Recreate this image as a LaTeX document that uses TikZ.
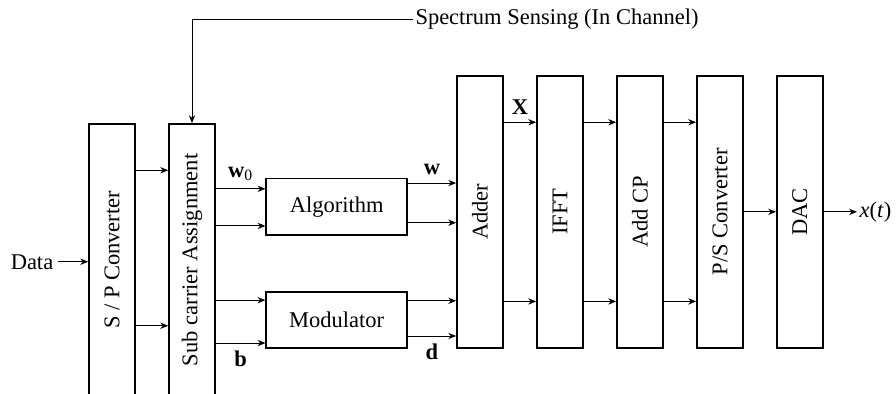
\documentclass[tikz,border=0pt]{standalone}
\usepackage{fontspec}
\setmainfont{Liberation Serif}
\usetikzlibrary{arrows.meta, positioning}

\begin{document}
\begin{tikzpicture}[
  tall/.style={draw, line width=0.7pt, minimum width=0.72cm, minimum height=4.25cm},
  blk/.style={draw, line width=0.7pt, minimum width=2.2cm, minimum height=0.88cm},
  lbl/.style={font=\bfseries},
  ->, >={Stealth[length=3.5pt, width=2.8pt]}, line width=0.4pt
]
\useasboundingbox (0,0) rectangle (14,-6.156);
\clip (0,0) rectangle (14,-6.156);

\node[tall] (spconv) at (1.75,-4.06) {\rotatebox{90}{S / P Converter}};
\node[tall] (subcar) at (3.0,-4.06) {\rotatebox{90}{Sub carrier Assignment}};
\node[blk] (algo) at (5.26,-3.23) {Algorithm};
\node[blk] (modu) at (5.26,-5.0) {Modulator};
\node[tall] (adder) at (7.5,-3.31) {\rotatebox{90}{Adder}};
\node[tall, right=0.505cm of adder] (ifft) {\rotatebox{90}{IFFT}};
\node[tall, right=0.505cm of ifft] (addcp) {\rotatebox{90}{Add CP}};
\node[tall, right=0.505cm of addcp] (psconv) {\rotatebox{90}{P/S Converter}};
\node[tall, right=0.505cm of psconv] (dac) {\rotatebox{90}{DAC}};

\node[inner sep=2pt] (data) at (0.5,-4.09) {Data};
\node[right=0.52cm of dac, inner sep=1pt] (xout) {\textit{x}(\textit{t})};
\node[right, inner sep=1pt] (sense) at (6.45,-0.3) {Spectrum Sensing (In Channel)};

% input side
\draw (data.east) -- (spconv.west |- data.east);
\draw (sense.west) -| (subcar.north);
\draw (spconv.east |- 0,-2.66) -- (subcar.west |- 0,-2.66);
\draw (spconv.east |- 0,-5.09) -- (subcar.west |- 0,-5.09);
\draw (subcar.east |- 0,-2.95) -- node[lbl, above]{w\textsubscript{\mdseries 0}} (algo.west |- 0,-2.95);
\draw (subcar.east |- 0,-3.53) -- (algo.west |- 0,-3.53);
\draw (subcar.east |- 0,-4.69) -- (modu.west |- 0,-4.69);
\draw (subcar.east |- 0,-5.36) -- node[lbl, below]{b} (modu.west |- 0,-5.36);

% into the adder
\draw (algo.east |- 0,-2.86) -- node[lbl, above]{w} (adder.west |- 0,-2.86);
\draw (algo.east |- 0,-3.48) -- (adder.west |- 0,-3.48);
\draw (modu.east |- 0,-4.70) -- (adder.west |- 0,-4.70);
\draw (modu.east |- 0,-5.25) -- node[lbl, below]{d} (adder.west |- 0,-5.25);

% output side
\draw (adder.east |- 0,-1.91) -- node[lbl, above]{X} (ifft.west |- 0,-1.91);
\draw (adder.east |- 0,-4.71) -- (ifft.west |- 0,-4.71);
\foreach \a/\b in {ifft/addcp, addcp/psconv} {
  \draw (\a.east |- 0,-1.91) -- (\b.west |- 0,-1.91);
  \draw (\a.east |- 0,-4.71) -- (\b.west |- 0,-4.71);
}
\draw (psconv) -- (dac);
\draw (dac) -- (xout);
\end{tikzpicture}
\end{document}
